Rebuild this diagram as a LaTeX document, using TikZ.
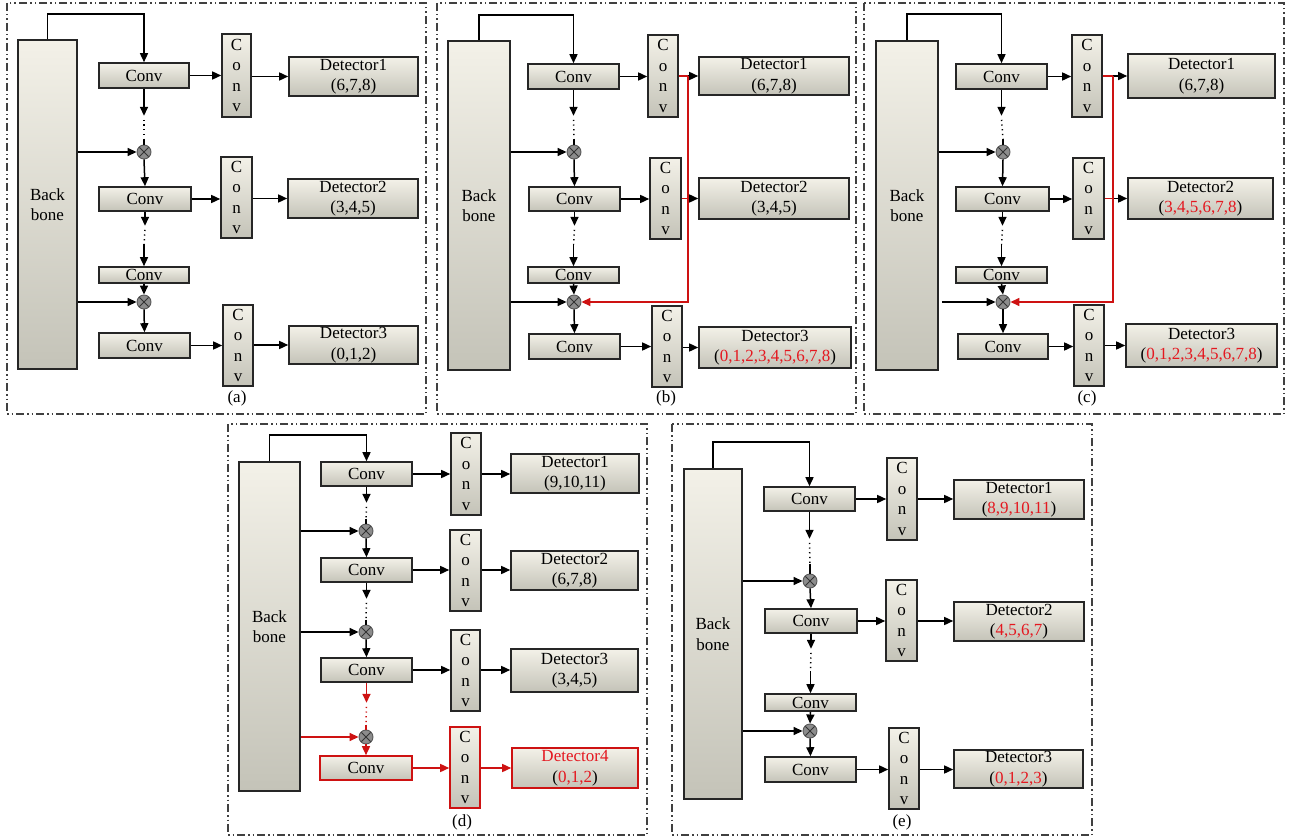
\documentclass[tikz,border=0pt]{standalone}
\usepackage{fontspec}
\setmainfont{Liberation Serif}
\usetikzlibrary{arrows.meta,calc}
\definecolor{boxtop}{RGB}{243,241,232}
\definecolor{boxbot}{RGB}{196,195,184}
\definecolor{numred}{RGB}{228,24,32}
\definecolor{linered}{RGB}{206,18,18}
\newcommand\figfs{\fontsize{17}{20.5}\selectfont}
\newcommand\redtxt[1]{\textcolor{numred}{#1}}
\newcommand\vconv{C\\o\\n\\v}
\newcommand\bx[7][]{%
  \pgfmathsetmacro\bxw{#5-#3}\pgfmathsetmacro\bxh{#6-#4}%
  \node[box,minimum width=\bxw pt,minimum height=\bxh pt,#1] (#2) at ({(#3+#5)/2},{(#4+#6)/2}) {#7};}
\tikzset{
  box/.style={draw=black!85, line width=1.6pt, top color=boxtop, bottom color=boxbot, inner sep=0pt, align=center, font=\figfs},
  redbox/.style={draw=linered},
  ln/.style={line width=1.5pt, draw=black},
  arr/.style={ln, -{Triangle[length=9pt,width=8pt]}},
  rln/.style={line width=1.5pt, draw=linered},
  rarr/.style={rln, -{Triangle[length=9pt,width=8pt]}},
  dts/.style={line width=1.5pt, dash pattern=on 1.2pt off 3.5pt},
  mul/.style={circle, draw=black!65, line width=0.9pt, fill=black!45, minimum size=14pt, inner sep=0pt,
    path picture={\draw[black!80, line width=0.9pt]
      (path picture bounding box.north west) -- (path picture bounding box.south east)
      (path picture bounding box.north east) -- (path picture bounding box.south west);}},
  frame/.style={draw=black!75, line width=1.3pt, dash pattern=on 8pt off 3pt on 1.5pt off 3pt on 1.5pt off 3pt},
  lbl/.style={font=\figfs, inner sep=0pt},
}
\begin{document}
\begin{tikzpicture}[x=1pt,y=-1pt]
\useasboundingbox[fill=white] (0,0) rectangle (1296,837);

% ================= (a) =================
\draw[frame] (7,3) rectangle (426,414);
\bx{aB}{18}{40}{77}{369}{Back\\bone}
\bx{aC1}{99}{63}{189}{88}{Conv}
\bx{aV1}{222}{34}{251}{117}{\vconv}
\bx{aD1}{289}{57}{418}{96}{Detector1\\(6,7,8)}
\node[mul] (aX1) at (144,152) {};
\bx{aC2}{99}{187}{191}{211}{Conv}
\bx{aV2}{221}{157}{252}{238}{\vconv}
\bx{aD2}{288}{179}{418}{218}{Detector2\\(3,4,5)}
\bx{aC3}{99}{267}{189}{283}{Conv}
\node[mul] (aX2) at (144,302) {};
\bx{aC4}{99}{333}{190}{358}{Conv}
\bx{aV3}{223}{305}{253}{386}{\vconv}
\bx{aD3}{289}{326}{418}{364}{Detector3\\(0,1,2)}
\node[lbl] (aL) at (237,398) {(a)};
\draw[arr] (aB.north) -- ++(0,-25) -| (aC1.north);
\draw[arr] (aC1.east) -- (aC1.east -| aV1.west);
\draw[arr] (aV1.east |- aD1.west) -- (aD1.west);
\draw[arr] (aC1.south) -- ++(0,27);
\draw[dts] ($(aC1.south)+(0,31)$) -- ($(aX1.north)+(0,-6)$);
\draw[ln] ($(aX1.north)+(0,-6)$) -- (aX1.north);
\draw[arr] (aB.east |- aX1) -- (aX1.west);
\draw[arr] (aX1.south) -- (aC2.north);
\draw[arr] (aC2.east) -- (aC2.east -| aV2.west);
\draw[arr] (aV2.east |- aD2.west) -- (aD2.west);
\draw[arr] (aC2.south) -- ++(0,14);
\draw[dts] ($(aC2.south)+(0,18)$) -- ($(aC3.north)+(0,-22)$);
\draw[arr] ($(aC3.north)+(0,-22)$) -- (aC3.north);
\draw[arr] (aC3.south) -- (aX2.north);
\draw[arr] (aB.east |- aX2) -- (aX2.west);
\draw[arr] (aX2.south) -- (aC4.north);
\draw[arr] (aC4.east) -- (aC4.east -| aV3.west);
\draw[arr] (aV3.east |- aD3.west) -- (aD3.west);

% ================= (b) =================
\draw[frame] (437,3) rectangle (856,414);
\bx{bB}{448}{41}{510}{370}{Back\\bone}
\bx{bC1}{528}{64}{619}{89}{Conv}
\bx{bV1}{648}{35}{678}{117}{\vconv}
\bx{bD1}{699}{57}{849}{95}{Detector1\\(6,7,8)}
\node[mul] (bX1) at (574,152) {};
\bx{bC2}{529}{187}{620}{211}{Conv}
\bx{bV2}{650}{158}{681}{239}{\vconv}
\bx{bD2}{699}{178}{849}{219}{Detector2\\(3,4,5)}
\bx{bC3}{528}{267}{619}{283}{Conv}
\node[mul] (bX2) at (574,302) {};
\bx{bC4}{529}{334}{620}{359}{Conv}
\bx{bV3}{652}{306}{682}{387}{\vconv}
\bx{bD3}{699}{327}{851}{368}{Detector3\\(\redtxt{0,1,2,3,4,5,6,7,8})}
\node[lbl] (bL) at (666,398) {(b)};
\coordinate (bR1) at (688,76);
\coordinate (bR2) at (688,198.5);
\draw[arr] (bB.north) -- ++(0,-25) -| (bC1.north);
\draw[arr] (bC1.east) -- (bC1.east -| bV1.west);
\draw[rln] (bV1.east) -- (bR1);
\draw[arr] (bR1) -- (bR1 -| bD1.west);
\draw[arr] (bC1.south) -- ++(0,26);
\draw[dts] ($(bC1.south)+(0,30)$) -- ($(bX1.north)+(0,-6)$);
\draw[ln] ($(bX1.north)+(0,-6)$) -- (bX1.north);
\draw[arr] (bB.east |- bX1) -- (bX1.west);
\draw[arr] (bX1.south) -- (bC2.north);
\draw[arr] (bC2.east) -- (bC2.east -| bV2.west);
\draw[rln] (bV2.east) -- (bR2);
\draw[arr] (bR2) -- (bR2 -| bD2.west);
\draw[arr] (bC2.south) -- ++(0,14);
\draw[dts] ($(bC2.south)+(0,18)$) -- ($(bC3.north)+(0,-22)$);
\draw[arr] ($(bC3.north)+(0,-22)$) -- (bC3.north);
\draw[arr] (bC3.south) -- (bX2.north);
\draw[arr] (bB.east |- bX2) -- (bX2.west);
\draw[rarr] (bR1) |- (bX2.east);
\draw[arr] (bX2.south) -- (bC4.north);
\draw[arr] (bC4.east) -- (bC4.east -| bV3.west);
\draw[arr] (bV3.east |- bD3.west) -- (bD3.west);

% ================= (c) =================
\draw[frame] (864,3) rectangle (1284,414);
\bx{cB}{876}{41}{938}{370}{Back\\bone}
\bx{cC1}{956}{64}{1047}{89}{Conv}
\bx{cV1}{1072}{35}{1102}{117}{\vconv}
\bx{cD1}{1128}{54}{1275}{98}{Detector1\\(6,7,8)}
\node[mul] (cX1) at (1003,152) {};
\bx{cC2}{956}{187}{1049}{211}{Conv}
\bx{cV2}{1073}{158}{1104}{239}{\vconv}
\bx{cD2}{1128}{178}{1273}{219}{Detector2\\(\redtxt{3,4,5,6,7,8})}
\bx{cC3}{956}{267}{1047}{283}{Conv}
\node[mul] (cX2) at (1003,302) {};
\bx{cC4}{958}{334}{1048}{359}{Conv}
\bx{cV3}{1074}{305}{1104}{386}{\vconv}
\bx{cD3}{1126}{324}{1277}{367}{Detector3\\(\redtxt{0,1,2,3,4,5,6,7,8})}
\node[lbl] (cL) at (1087,398) {(c)};
\coordinate (cR1) at (1113,76);
\coordinate (cR2) at (1113,198.5);
\draw[arr] (cB.north) -- ++(0,-26) -| (cC1.north);
\draw[arr] (cC1.east) -- (cC1.east -| cV1.west);
\draw[rln] (cV1.east) -- (cR1);
\draw[arr] (cR1) -- (cR1 -| cD1.west);
\draw[arr] (cC1.south) -- ++(0,26);
\draw[dts] ($(cC1.south)+(0,30)$) -- ($(cX1.north)+(0,-6)$);
\draw[ln] ($(cX1.north)+(0,-6)$) -- (cX1.north);
\draw[arr] (cB.east |- cX1) -- (cX1.west);
\draw[arr] (cX1.south) -- (cC2.north);
\draw[arr] (cC2.east) -- (cC2.east -| cV2.west);
\draw[rln] (cV2.east) -- (cR2);
\draw[arr] (cR2) -- (cR2 -| cD2.west);
\draw[arr] (cC2.south) -- ++(0,14);
\draw[dts] ($(cC2.south)+(0,18)$) -- ($(cC3.north)+(0,-22)$);
\draw[arr] ($(cC3.north)+(0,-22)$) -- (cC3.north);
\draw[arr] (cC3.south) -- (cX2.north);
\draw[arr] ($(cB.east |- cX2)+(3,0)$) -- (cX2.west);
\draw[rarr] (cR1) |- (cX2.east);
\draw[arr] (cX2.south) -- (cC4.north);
\draw[arr] (cC4.east) -- (cC4.east -| cV3.west);
\draw[arr] (cV3.east |- cD3.west) -- (cD3.west);

% ================= (d) =================
\draw[frame] (228,424) rectangle (647,835);
\bx{dB}{239}{462}{300}{791}{Back\\bone}
\bx{dC1}{321}{462}{412}{486}{Conv}
\bx{dV1}{451}{433}{481}{515}{\vconv}
\bx{dD1}{511}{454}{639}{493}{Detector1\\(9,10,11)}
\node[mul] (dX1) at (366,531) {};
\bx{dC2}{321}{558}{412}{582}{Conv}
\bx{dV2}{450}{530}{481}{611}{\vconv}
\bx{dD2}{511}{551}{638}{590}{Detector2\\(6,7,8)}
\node[mul] (dX2) at (366,632) {};
\bx{dC3}{321}{658}{412}{682}{Conv}
\bx{dV3}{451}{630}{480}{711}{\vconv}
\bx{dD3}{511}{649}{638}{692}{Detector3\\(3,4,5)}
\node[mul] (dX3) at (366,737) {};
\bx[redbox]{dC4}{320}{756}{412}{780}{Conv}
\bx[redbox]{dV4}{450}{727}{480}{808}{\vconv}
\bx[redbox]{dD4}{512}{748}{638}{788}{\redtxt{Detector4}\\(\redtxt{0,1,2})}
\node[lbl] (dL) at (462,822) {(d)};
\draw[arr] (dB.north) -- ++(0,-26) -| (dC1.north);
\draw[arr] (dC1.east) -- (dC1.east -| dV1.west);
\draw[arr] (dV1.east) -- (dV1.east -| dD1.west);
\draw[arr] (dC1.south) -- ++(0,16);
\draw[dts] ($(dC1.south)+(0,20)$) -- ($(dX1.north)+(0,-5)$);
\draw[ln] ($(dX1.north)+(0,-5)$) -- (dX1.north);
\draw[arr] (dB.east |- dX1) -- (dX1.west);
\draw[arr] (dX1.south) -- (dC2.north);
\draw[arr] (dC2.east) -- (dC2.east -| dV2.west);
\draw[arr] (dV2.east |- dC2.east) -- (dD2.west |- dC2.east);
\draw[arr] (dC2.south) -- ++(0,16);
\draw[dts] ($(dC2.south)+(0,20)$) -- ($(dX2.north)+(0,-5)$);
\draw[ln] ($(dX2.north)+(0,-5)$) -- (dX2.north);
\draw[arr] (dB.east |- dX2) -- (dX2.west);
\draw[arr] (dX2.south) -- (dC3.north);
\draw[arr] (dC3.east) -- (dC3.east -| dV3.west);
\draw[arr] (dV3.east |- dC3.east) -- (dD3.west |- dC3.east);
\draw[rarr] (dC3.south) -- ++(0,20);
\draw[dts, draw=linered] ($(dC3.south)+(0,24)$) -- ($(dX3.north)+(0,-5)$);
\draw[rln] ($(dX3.north)+(0,-5)$) -- (dX3.north);
\draw[rarr] (dB.east |- dX3) -- (dX3.west);
\draw[rarr] (dX3.south) -- (dC4.north);
\draw[rarr] (dC4.east) -- (dC4.east -| dV4.west);
\draw[rarr] (dV4.east |- dC4.east) -- (dD4.west |- dC4.east);

% ================= (e) =================
\draw[frame] (672,424) rectangle (1092,835);
\bx{eB}{684}{469}{742}{799}{Back\\bone}
\bx{eC1}{764}{487}{855}{511}{Conv}
\bx{eV1}{887}{458}{917}{540}{\vconv}
\bx{eD1}{954}{480}{1084}{519}{Detector1\\(\redtxt{8,9,10,11})}
\node[mul] (eX1) at (810,581) {};
\bx{eC2}{765}{609}{857}{633}{Conv}
\bx{eV2}{886}{580}{917}{661}{\vconv}
\bx{eD2}{954}{602}{1084}{641}{Detector2\\(\redtxt{4,5,6,7})}
\bx{eC3}{765}{694}{856}{711}{Conv}
\node[mul] (eX2) at (810,731) {};
\bx{eC4}{765}{757}{856}{782}{Conv}
\bx{eV3}{889}{728}{919}{809}{\vconv}
\bx{eD3}{954}{750}{1083}{788}{Detector3\\(\redtxt{0,1,2,3})}
\node[lbl] (eL) at (902,822) {(e)};
\draw[arr] (eB.north) -- ++(0,-26) -| (eC1.north);
\draw[arr] (eC1.east) -- (eC1.east -| eV1.west);
\draw[arr] (eV1.east |- eC1.east) -- (eD1.west |- eC1.east);
\draw[arr] (eC1.south) -- ++(0,27);
\draw[dts] ($(eC1.south)+(0,31)$) -- ($(eX1.north)+(0,-10)$);
\draw[ln] ($(eX1.north)+(0,-10)$) -- (eX1.north);
\draw[arr] (eB.east |- eX1) -- (eX1.west);
\draw[arr] (eX1.south) -- (eC2.north);
\draw[arr] (eC2.east) -- (eC2.east -| eV2.west);
\draw[arr] (eV2.east |- eC2.east) -- (eD2.west |- eC2.east);
\draw[arr] (eC2.south) -- ++(0,15);
\draw[dts] ($(eC2.south)+(0,19)$) -- ($(eC3.north)+(0,-22)$);
\draw[arr] ($(eC3.north)+(0,-22)$) -- (eC3.north);
\draw[arr] (eC3.south) -- (eX2.north);
\draw[arr] (eB.east |- eX2) -- (eX2.west);
\draw[arr] (eX2.south) -- (eC4.north);
\draw[arr] (eC4.east) -- (eC4.east -| eV3.west);
\draw[arr] (eV3.east |- eC4.east) -- (eD3.west |- eC4.east);
\end{tikzpicture}
\end{document}
